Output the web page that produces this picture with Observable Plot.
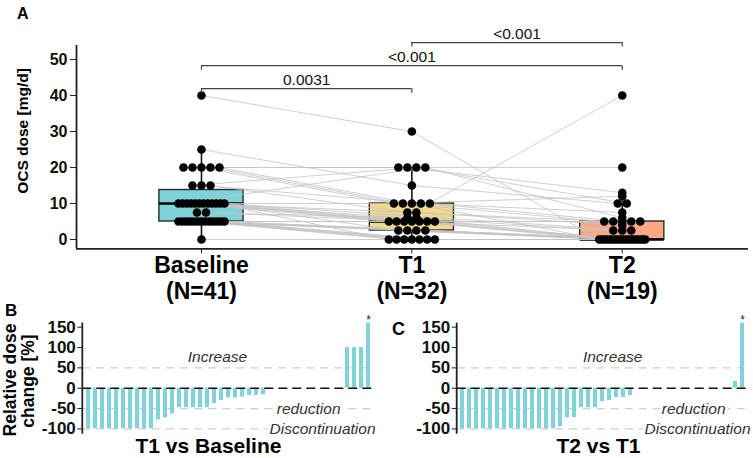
<!DOCTYPE html>
<html><head><meta charset="utf-8">
<script src="https://cdn.jsdelivr.net/npm/d3@7"></script>
<script src="https://cdn.jsdelivr.net/npm/@observablehq/plot@0.6"></script>
<style>
body{margin:0;background:#fff;}
#wrap{position:relative;width:753px;height:458px;overflow:hidden;background:#fff;font-family:"Liberation Sans",Arial,Helvetica,sans-serif;}
#wrap svg{position:absolute;}
</style></head><body><div id="wrap"></div>
<script>
// ---------- DATA ----------
const timepoints = ["Baseline", "T1", "T2"];
const tickLabels = ["Baseline\n(N=41)", "T1\n(N=32)", "T2\n(N=19)"];
const boxColors = ["#7dd3d9", "#f1d88b", "#fba886"];
// per-patient OCS dose [mg/d]; null = no value at that visit
const baseline = [40,25,20,20,20,20,20,15,15,15,10,10,10,10,10,10,10,10,10,10,10,10,7.5,7.5,5,5,5,5,5,5,5,5,5,5,5,5,5,0];
const t1 =       [30,15,20,20,10,10,10,20,10,7.5,20,10,5,7.5,6,5,5,5,2.5,0,null,null,6,5,5,5,2.5,2.5,2.5,0,0,0,0,0,0,null,null,null];
const t2 =       [0,10,20,13,12,5,0,10,7.5,5,6,5,5,4,2.5,40,2.5,0,0,0,2.5,0,0,0,5,0,0,0,0,0,0,null,0,null,0,0,0,0];
const comparisons = [
  {a: 0, b: 1, label: "0.0031"},
  {a: 0, b: 2, label: "<0.001"},
  {a: 1, b: 2, label: "<0.001"}
];
// relative dose change [%] per patient
const changeT1vsBaseline = [-100,-100,-100,-100,-100,-100,-100,-100,-100,-100,-78,-73,-63,-48,-48,-48,-48,-48,-38,-30,-24,-24,-22,-18,-18,-16,0,0,0,0,0,0,0,0,0,0,0,100,100,100,160];
const changeT2vsT1 = [-100,-100,-100,-100,-100,-100,-100,-100,-100,-100,-100,-100,-100,-100,-95,-73,-72,-48,-48,-48,-33,-30,-23,-23,-18,0,0,0,0,0,0,0,0,0,0,0,0,0,0,17,160];
const starT1vsBaseline = [40];
const starT2vsT1 = [40];
const zoneLabels = ["Increase", "reduction", "Discontinuation"];

// ---------- HELPERS ----------
const FONT = '"Liberation Sans", Arial, Helvetica, sans-serif';
const wrap = document.getElementById("wrap");
const NS = "http://www.w3.org/2000/svg";

function leftAxisLine(index, scales, values, dims) {
  const l = document.createElementNS(NS, "line");
  l.setAttribute("x1", dims.marginLeft); l.setAttribute("x2", dims.marginLeft);
  l.setAttribute("y1", dims.marginTop); l.setAttribute("y2", dims.height - dims.marginBottom);
  l.setAttribute("stroke", "#222"); l.setAttribute("stroke-width", 1.8);
  return l;
}

// ---------- PANEL A ----------
const series = [baseline, t1, t2];
const pxPerUnit = 210.4;
const pts = [];
series.forEach((vals, ti) => {
  const groups = d3.group(vals.map((v, id) => ({id, v})).filter(d => d.v != null), d => d.v);
  for (const [v, arr] of groups) {
    const n = arr.length;
    const sp = n > 1 ? Math.min(9, 46 / (n - 1)) : 0;
    arr.forEach((d, k) => {
      pts.push({id: d.id, t: ti, y: v, x: ti + ((k - (n - 1) / 2) * sp) / pxPerUnit});
    });
  }
});
pts.sort((p, q) => p.id - q.id || p.t - q.t);

const stats = series.map((vals, i) => {
  const s = vals.filter(v => v != null).sort(d3.ascending);
  const q1 = d3.quantile(s, 0.25), med = d3.quantile(s, 0.5), q3 = d3.quantile(s, 0.75);
  const iqr = q3 - q1;
  const hi = d3.max(s.filter(v => v <= q3 + 1.5 * iqr));
  const lo = d3.min(s.filter(v => v >= q1 - 1.5 * iqr));
  return {i, q1, med, q3, hi, lo, color: boxColors[i]};
});

const levelBase = 41.9, levelStep = 6.4, tip = 1.25;
const brackets = comparisons.map((c, k) => ({...c, yy: levelBase + levelStep * k}));
const tips = brackets.flatMap(c => [{x: c.a, y1: c.yy, y2: c.yy - tip}, {x: c.b, y1: c.yy, y2: c.yy - tip}]);

const xMin = -0.594, yMin = -2.6;
const line1 = timepoints.map((t, i) => ({i, s: tickLabels[i].split("\n")[0]}));
const line2 = timepoints.map((t, i) => ({i, s: tickLabels[i].split("\n")[1]}));
const plotA = Plot.plot({
  width: 753, height: 305,
  marginLeft: 76, marginRight: 5, marginTop: 45, marginBottom: 56.64,
  style: {background: "transparent", fontFamily: FONT, fontWeight: "bold", color: "#111", overflow: "visible"},
  x: {domain: [xMin, 2.6], axis: null},
  y: {domain: [yMin, 53.9], axis: null},
  color: {type: "identity"},
  marks: [
    Plot.rect(stats, {x1: d => d.i - 0.2, x2: d => d.i + 0.2, y1: "q1", y2: "q3", fill: "color", stroke: "#2a2a2a", strokeWidth: 1.4}),
    Plot.ruleX(stats, {x: "i", y1: "q3", y2: "hi", stroke: "#1a1a1a", strokeWidth: 1.6}),
    Plot.ruleX(stats.filter(d => d.lo < d.q1), {x: "i", y1: "lo", y2: "q1", stroke: "#1a1a1a", strokeWidth: 1.6}),
    Plot.ruleY(stats, {x1: d => d.i - 0.2, x2: d => d.i + 0.2, y: "med", stroke: "#000", strokeWidth: 2.6}),
    Plot.line(pts, {x: "x", y: "y", z: "id", stroke: "#c4c4c4", strokeWidth: 0.8, curve: "linear"}),
    Plot.dot(pts, {x: "x", y: "y", r: 4.3, fill: "#000", stroke: null}),
    Plot.ruleY(brackets, {x1: "a", x2: "b", y: "yy", stroke: "#444", strokeWidth: 1.2}),
    Plot.ruleX(tips, {x: "x", y1: "y1", y2: "y2", stroke: "#444", strokeWidth: 1.2}),
    Plot.text(brackets, {x: d => (d.a + d.b) / 2, y: "yy", text: "label", dy: -8.5, fontSize: 15.5, fontWeight: "normal", fill: "#111"}),
    Plot.ruleX([xMin], {stroke: "#222", strokeWidth: 1.8}),
    Plot.ruleY([yMin], {stroke: "#222", strokeWidth: 1.8}),
    Plot.axisY({ticks: [0, 10, 20, 30, 40, 50], tickSize: 6, tickPadding: 3, fontSize: 16, label: null, stroke: "#222"}),
    Plot.axisX({ticks: [0, 1, 2], tickSize: 5, tickFormat: () => "", label: null, stroke: "#222"}),
    Plot.text(line1, {x: "i", frameAnchor: "bottom", text: "s", lineAnchor: "bottom", dy: 24.5, fontSize: 23, fill: "#000"}),
    Plot.text(line2, {x: "i", frameAnchor: "bottom", text: "s", lineAnchor: "bottom", dy: 50, fontSize: 23, fill: "#000"})
  ]
});
plotA.style.left = "0px"; plotA.style.top = "0px";
wrap.appendChild(plotA);

// ---------- PANELS B, C ----------
function waterfall(values, stars, opt) {
  const data = values.map((v, i) => ({i, v}));
  return Plot.plot({
    width: opt.width, height: 148,
    marginLeft: opt.ml, marginRight: opt.mr, marginTop: 12.6, marginBottom: 24.3,
    style: {background: "transparent", fontFamily: FONT, fontWeight: "bold", color: "#111", overflow: "visible"},
    x: {type: "band", domain: d3.range(values.length), paddingInner: 0.43, paddingOuter: opt.po, axis: null},
    y: {domain: [-113, 160], axis: null},
    marks: [
      Plot.ruleY([50, -50, -100], {stroke: "#d0d0d0", strokeWidth: 1.3, strokeDasharray: "8,6"}),
      Plot.barY(data, {x: "i", y: "v", fill: "#7fd4da"}),
      Plot.ruleY([0], {stroke: "#111", strokeWidth: 1.6, strokeDasharray: "9,5"}),
      Plot.text([{t: zoneLabels[0], y: 50}], {y: "y", text: "t", frameAnchor: "middle", dx: opt.incDx, dy: -11, fontSize: 15.5, fontWeight: "normal", fontStyle: "italic", fill: "#333"}),
      Plot.text([{t: zoneLabels[1], y: -50}], {y: "y", text: "t", frameAnchor: "right", textAnchor: "end", dx: opt.redDx, fontSize: 15.5, fontWeight: "normal", fontStyle: "italic", fill: "#333", stroke: "white", strokeWidth: 6, paintOrder: "stroke"}),
      Plot.text([{t: zoneLabels[2], y: -100}], {y: "y", text: "t", frameAnchor: "right", textAnchor: "end", dx: opt.disDx, fontSize: 15.5, fontWeight: "normal", fontStyle: "italic", fill: "#333", stroke: "white", strokeWidth: 6, paintOrder: "stroke"}),
      Plot.text(data.filter(d => stars.includes(d.i)), {x: "i", y: "v", text: () => "*", lineAnchor: "bottom", dy: 1, fontSize: 12, fontWeight: "normal", fill: "#222"}),
      leftAxisLine,
      Plot.axisY({ticks: [-100, -50, 0, 50, 100, 150], tickSize: 5, tickPadding: 2, fontSize: 17, label: null, stroke: "#222", tickFormat: d => String(d)})
    ]
  });
}
const plotB = waterfall(changeT1vsBaseline, starT1vsBaseline, {width: 378, ml: 82.3, mr: 3.5, po: 0.38, incDx: -11.4, redDx: -34.5, disDx: 0.5});
plotB.style.left = "0px"; plotB.style.top = "310px";
const plotC = waterfall(changeT2vsT1, starT2vsT1, {width: 383, ml: 86.7, mr: 5.4, po: 0.23, incDx: 10, redDx: -22.6, disDx: 2.4});
plotC.style.left = "370px"; plotC.style.top = "310px";
wrap.appendChild(plotB);
wrap.appendChild(plotC);

// ---------- OVERLAY TEXT ----------
const ov = document.createElementNS(NS, "svg");
ov.setAttribute("width", 753); ov.setAttribute("height", 458);
ov.style.left = "0px"; ov.style.top = "0px"; ov.style.pointerEvents = "none";
ov.setAttribute("font-family", FONT); ov.setAttribute("font-weight", "bold");
function txt(s, x, y, size, opts = {}) {
  const t = document.createElementNS(NS, "text");
  t.textContent = s;
  t.setAttribute("font-size", size);
  t.setAttribute("fill", "#000");
  if (opts.rot) {
    t.setAttribute("transform", `translate(${x},${y}) rotate(-90)`);
    t.setAttribute("text-anchor", "middle");
    t.setAttribute("dominant-baseline", "central");
  } else {
    t.setAttribute("x", x); t.setAttribute("y", y);
    t.setAttribute("text-anchor", opts.anchor || "start");
  }
  ov.appendChild(t);
}
txt("A", 17, 19, 16);
txt("OCS dose [mg/d]", 22, 131, 15.5, {rot: true});
txt("B", 5, 316, 17);
txt("C", 392, 335, 18);
txt("Relative dose", 10, 380, 17.5, {rot: true});
txt("change [%]", 28, 381, 17.5, {rot: true});
txt("T1 vs Baseline", 208.5, 453, 21, {anchor: "middle"});
txt("T2 vs T1", 598.5, 453, 21, {anchor: "middle"});
wrap.appendChild(ov);
</script></body></html>
